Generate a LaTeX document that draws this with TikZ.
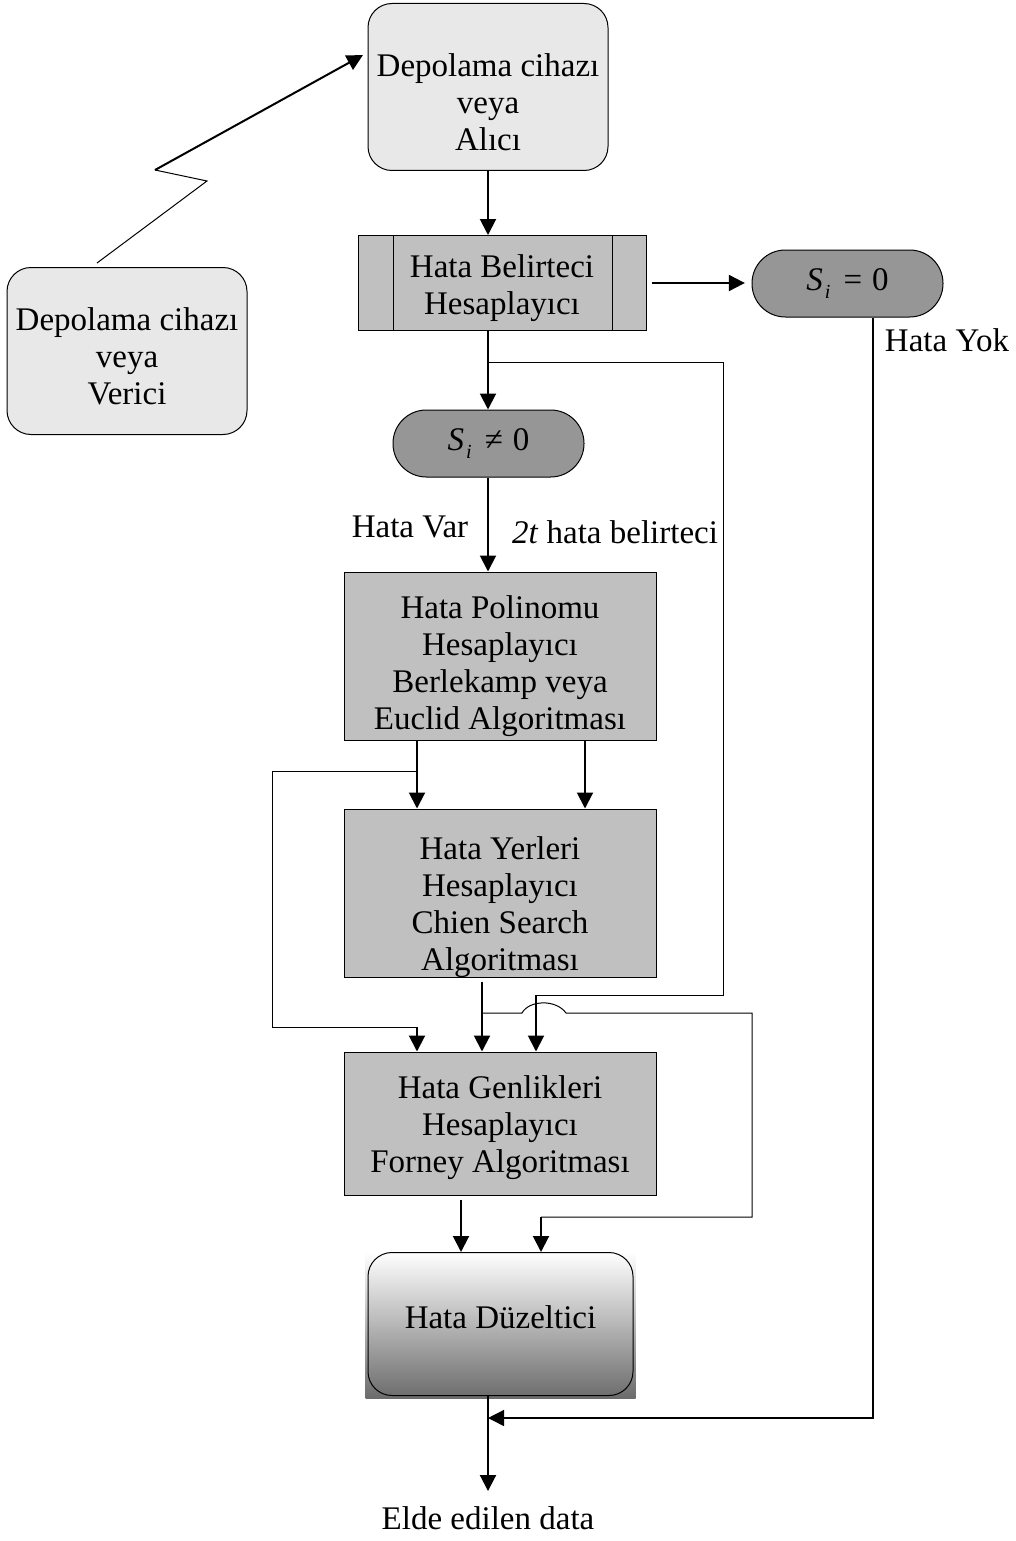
\documentclass[tikz,border=0pt]{standalone}
\usepackage{fontspec}
\setmainfont{Liberation Serif}
\usetikzlibrary{arrows.meta,calc,backgrounds}

\definecolor{storefill}{HTML}{E8E8E8}
\definecolor{procfill}{HTML}{C0C0C0}
\definecolor{termfill}{HTML}{969696}
\definecolor{shadebot}{HTML}{6C6C6C}
\definecolor{shademid}{HTML}{C8C8C8}

\newcommand{\sidx}[1]{\textit{S}\kern1.5pt\raisebox{-0.5ex}{\fontsize{15pt}{15pt}\selectfont\textit{i}}\hspace{0.4em}#1\hspace{0.3em}0}

\begin{document}
\begin{tikzpicture}[x=0.75pt,y=-0.75pt,
  every node/.style={font=\fontsize{24.75pt}{27.75pt}\selectfont},
  tip/.style={-{Triangle[length=12pt,width=12pt]}},
  conn/.style={line width=1.5pt,tip},
  wire/.style={line width=0.75pt},
  txt/.style={align=center,inner sep=0pt},
  store/.style={draw,line width=0.75pt,fill=storefill,rounded corners=18pt,
    minimum width=180pt,minimum height=125.25pt,inner sep=0pt},
  proc/.style={draw,line width=0.75pt,fill=procfill,minimum width=234pt,
    inner sep=0pt},
  term/.style={draw,line width=0.75pt,fill=termfill,rounded corners=25pt,
    minimum width=143.25pt,minimum height=50.25pt,inner sep=0pt},
  corr/.style={draw,line width=0.75pt,rounded corners=18pt,
    minimum width=198.75pt,minimum height=107.25pt,inner sep=0pt}
]
\useasboundingbox (0,0) rectangle (1016,1541);

% blocks
\node[store] (alici) at (488,87) {};
\node[txt] (alici-t) at ($(alici)+(0,15)$) {Depolama cihazı\\veya\\Alıcı};
\node[store] (verici) at (127,351) {};
\node[txt] (verici-t) at ($(verici)+(0,5)$) {Depolama cihazı\\veya\\Verici};
\node[proc,minimum width=216pt,minimum height=71.25pt] (belirt) at (502,283) {};
\node[txt] (belirt-t) at ($(belirt)+(0,5)$) {Hata Belirteci\\Hesaplayıcı};
\draw[wire] ($(belirt.north west)+(36,0)$) -- ($(belirt.south west)+(36,0)$);
\draw[wire] ($(belirt.north east)+(-34,0)$) -- ($(belirt.south east)+(-34,0)$);
\node[term] (szero) at (847.5,283.5) {\sidx{=}};
\node[term] (snz) at (488.5,443.5) {\sidx{≠}};
\node[proc,minimum height=126pt] (polin) at (500,656) {};
\node[txt] (polin-t) at ($(polin)+(0,10)$)
  {Hata Polinomu\\Hesaplayıcı\\Berlekamp veya\\Euclid Algoritması};
\node[proc,minimum height=126pt] (yer) at (500,893) {};
\node[txt] (yer-t) at ($(yer)+(0,14)$)
  {Hata Yerleri\\Hesaplayıcı\\Chien Search\\Algoritması};
\node[proc,minimum height=107.25pt] (genlik) at (500,1123.5) {};
\node[txt] (genlik-t) at ($(genlik)+(0,4)$)
  {Hata Genlikleri\\Hesaplayıcı\\Forney Algoritması};
\node[corr] (duzelt) at (500.5,1324) {};
\node[txt] (duzelt-t) at ($(duzelt)+(0,-7)$) {Hata Düzeltici};
\begin{scope}[on background layer]
  \shade[top color=white,middle color=shademid,bottom color=shadebot]
    ($(duzelt.south west)+(-2,2)$) rectangle ($(duzelt.north east)+(2,0)$);
\end{scope}

% labels
\node (out) at (488,1518) {Elde edilen data};
\node (yok) at (947,340) {Hata Yok};
\node (var) at (410,527) {Hata Var};
\node (sendr) at (615,532) {\textit{2t} hata belirteci};

% radio link
\coordinate (z0) at ($(verici.north)+(-30,-4)$);
\coordinate (z1) at (207,181);
\coordinate (z2) at (155,170);
\coordinate (ztip) at (363,55);
\draw[wire] (z0) -- (z1) -- (z2);
\draw[conn] (z2) -- (ztip);

% main flow
\draw[conn] (alici.south) -- (alici.south |- belirt.north);
\draw[conn] (belirt.east) ++(5,0) -- ([xshift=-5pt]belirt.east -| szero.west);
\draw[conn] (alici.south |- belirt.south) -- (alici.south |- snz.north);
\draw[conn] (alici.south |- snz.south) -- (alici.south |- polin.north);

% polynomial outputs
\coordinate (pl) at (417,0);
\coordinate (pr) at (585,0);
\draw[conn] (pl |- polin.south) -- (pl |- yer.north);
\draw[conn] (pr |- polin.south) -- (pr |- yer.north);
\coordinate (l0) at (417,771);
\coordinate (l1) at (272,771);
\coordinate (l2) at (272,1027);
\coordinate (l3) at (417,1027);
\draw[wire] (l0) -- (l1) -- (l2) -- (l3);
\draw[conn] (l3) -- (l3 |- genlik.north);

% syndromes to the magnitude block
\coordinate (s0) at (488,362);
\coordinate (s1) at (723,362);
\coordinate (s2) at (723,995);
\coordinate (s3) at (536,995);
\draw[wire] (s0) -- (s1) -- (s2) -- (s3);
\draw[conn] (s3) -- (s3 |- genlik.north);

% locator outputs
\coordinate (y0) at ($(yer.south)+(-18,4)$);
\coordinate (yb) at (482,1013);
\coordinate (h0) at (522,1013);
\coordinate (h1) at (566,1013);
\coordinate (y1) at (752,1013);
\coordinate (y2) at (752,1217);
\coordinate (y3) at (541,1217);
\draw[conn] (y0) -- (y0 |- genlik.north);
\draw[wire] (yb) -- (h0) .. controls (529,1000) and (556,999) .. (h1) -- (y1) -- (y2) -- (y3);
\draw[conn] (y3) -- (y3 |- duzelt.north);

% magnitudes to the corrector
\coordinate (g0) at (461,0);
\draw[conn] ($(g0 |- genlik.south)+(0,4)$) -- (g0 |- duzelt.north);

% no-error bypass and output
\coordinate (yokdrop) at ($(szero.south)+(25.5,0)$);
\coordinate (merge) at (488,1418);
\draw[line width=1pt,tip] (yokdrop) |- (merge);
\draw[conn,shorten >=8pt] (duzelt.south -| merge) -- (out.north);
\end{tikzpicture}
\end{document}
